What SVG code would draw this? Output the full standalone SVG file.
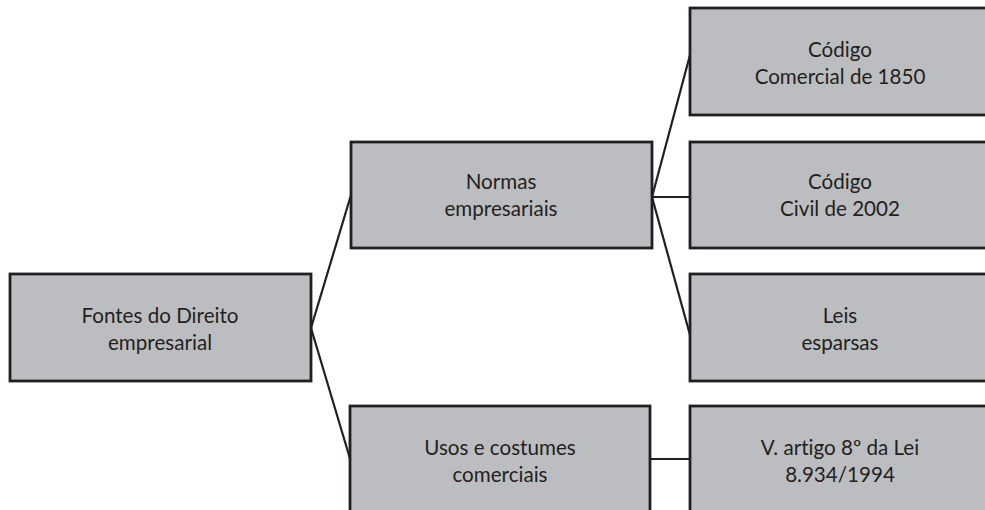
<svg xmlns="http://www.w3.org/2000/svg" width="985" height="510" viewBox="0 0 985 510">
<style>
.box{fill:#bcbdc0;stroke:#231f20;stroke-width:2.8}
.lbl{font-family:Lato,"Open Sans","Liberation Sans",sans-serif;font-size:20.6px;fill:#231f20;text-anchor:middle;font-variant-ligatures:none;font-feature-settings:"liga" 0}
.conn{stroke:#231f20;stroke-width:2.2;fill:none}
</style>
<rect width="985" height="510" fill="#ffffff"/>
<g id="connectors">
<line class="conn" x1="311" y1="328" x2="351" y2="195"/>
<line class="conn" x1="311" y1="328" x2="351" y2="462"/>
<line class="conn" x1="652" y1="197" x2="690" y2="55"/>
<line class="conn" x1="652" y1="197" x2="690" y2="197"/>
<line class="conn" x1="652" y1="197" x2="690" y2="335"/>
<line class="conn" x1="650" y1="459" x2="690" y2="459"/>
</g>
<g id="fontes">
<rect class="box" x="10" y="274" width="301" height="107"/>
<text class="lbl" x="160" y="323">Fontes do Direito</text>
<text class="lbl" x="160" y="350">empresarial</text>
</g>
<g id="normas">
<rect class="box" x="351" y="142" width="301" height="106"/>
<text class="lbl" x="501" y="189">Normas</text>
<text class="lbl" x="501" y="216">empresariais</text>
</g>
<g id="usos">
<rect class="box" x="350" y="406" width="300" height="108"/>
<text class="lbl" x="500" y="455">Usos e costumes</text>
<text class="lbl" x="500" y="482">comerciais</text>
</g>
<g id="codigo-comercial">
<rect class="box" x="690" y="8" width="302" height="107"/>
<text class="lbl" x="840" y="57">Código</text>
<text class="lbl" x="840" y="84">Comercial de 1850</text>
</g>
<g id="codigo-civil">
<rect class="box" x="690" y="142" width="302" height="106"/>
<text class="lbl" x="840" y="189">Código</text>
<text class="lbl" x="840" y="216">Civil de 2002</text>
</g>
<g id="leis">
<rect class="box" x="690" y="274" width="302" height="107"/>
<text class="lbl" x="840" y="323">Leis</text>
<text class="lbl" x="840" y="350">esparsas</text>
</g>
<g id="artigo">
<rect class="box" x="690" y="406" width="302" height="108"/>
<text class="lbl" x="840" y="455">V. artigo 8º da Lei</text>
<text class="lbl" x="840" y="482">8.934/1994</text>
</g>
</svg>
